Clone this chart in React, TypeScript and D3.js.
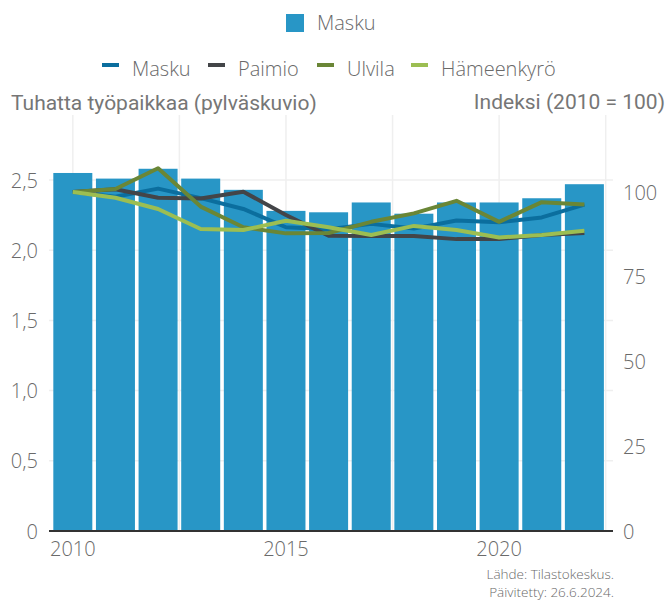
import React from "react";
import * as d3 from "d3";

const years = [2010, 2011, 2012, 2013, 2014, 2015, 2016, 2017, 2018, 2019, 2020, 2021, 2022];
const maskuJobs = [2.55, 2.51, 2.58, 2.51, 2.43, 2.28, 2.27, 2.34, 2.26, 2.34, 2.34, 2.37, 2.47];
const maskuIndex = [100, 98.6, 101, 98.2, 95, 89.6, 89, 90.6, 89.2, 91.6, 91.1, 92.5, 96.3];
const paimioIndex = [100, 100.8, 98.3, 98.1, 100.1, 93.2, 87.1, 87, 87, 86.1, 86.1, 87.3, 87.9];
const ulvilaIndex = [100, 100.9, 107, 95.7, 89.6, 87.8, 87.9, 91.2, 93.7, 97.4, 91.2, 97, 96.3];
const hameenkyroIndex = [100, 98.3, 95, 89.1, 88.8, 91.5, 89.6, 87.3, 90, 88.8, 86.6, 87.3, 88.6];

const leftTicks = [0, 0.5, 1, 1.5, 2, 2.5];
const rightTicks = [0, 25, 50, 75, 100];
const xTicks = [2010, 2015, 2020];
const xGrid = [2010, 2012.5, 2015, 2017.5, 2020, 2022.5];

const lineSeries = [
  { name: "Masku", values: maskuIndex, color: "#0b6e9e" },
  { name: "Paimio", values: paimioIndex, color: "#434548" },
  { name: "Ulvila", values: ulvilaIndex, color: "#6a8636" },
  { name: "Hämeenkyrö", values: hameenkyroIndex, color: "#9cbe52" },
];
const barColor = "#2896c6";

const W = 668;
const H = 601;
const plotTop = 115;
const plotBottom = 531;
const textColor = "#6a6a6a";
const font = "'Open Sans', Lato, sans-serif";
const titleFont = "Roboto, 'Liberation Sans', Arial, sans-serif";

export default function App() {
  const x = d3.scaleLinear().domain([2009.5, 2022.5]).range([51.5, 605.7]);
  const yL = d3.scaleLinear().domain([0, 2.5]).range([plotBottom, 180]);
  const yR = d3.scaleLinear().domain([0, 100]).range([plotBottom, 192]);
  const barW = 39;
  const line = (vals: number[]) =>
    d3
      .line<number>()
      .x((_, i) => x(years[i]))
      .y((v) => yR(v))(vals) as string;

  const legendItems = [
    { x: 102, label: "Masku" },
    { x: 208, label: "Paimio" },
    { x: 317, label: "Ulvila" },
    { x: 411, label: "Hämeenkyrö" },
  ];

  return (
    <svg
      width={W}
      height={H}
      style={{ position: "absolute", left: 0, top: 0, background: "#fff" }}
      fontFamily={font}
      fontWeight={300}
    >
      {/* grid */}
      {xGrid.map((g) => (
        <line key={"vx" + g} x1={x(g)} x2={x(g)} y1={plotTop} y2={plotBottom} stroke="#efefef" strokeWidth={1.5} />
      ))}
      {leftTicks.slice(1).map((t) => (
        <line key={"hy" + t} x1={49} x2={613} y1={yL(t)} y2={yL(t)} stroke="#efefef" strokeWidth={1.5} />
      ))}
      {/* bars */}
      {years.map((yr, i) => (
        <rect
          key={yr}
          x={x(yr) - barW / 2}
          y={yL(maskuJobs[i])}
          width={barW}
          height={plotBottom - yL(maskuJobs[i])}
          fill={barColor}
        />
      ))}
      {/* lines */}
      {lineSeries.map((s) => (
        <path key={s.name} d={line(s.values)} fill="none" stroke={s.color} strokeWidth={4} strokeLinejoin="round" />
      ))}
      {/* axis line */}
      <line x1={49} x2={613} y1={plotBottom} y2={plotBottom} stroke="#333" strokeWidth={2} />
      {/* left ticks */}
      {leftTicks.map((t) => (
        <text key={"l" + t} x={38} y={yL(t) + 7.5} textAnchor="end" fontSize={20} fill={textColor}>
          {t === 0 ? "0" : d3.format(".1f")(t).replace(".", ",")}
        </text>
      ))}
      {rightTicks.map((t) => (
        <text key={"r" + t} x={623} y={yR(t) + 7.5} textAnchor="start" fontSize={20} fill={textColor}>
          {t}
        </text>
      ))}
      {xTicks.map((t) => (
        <text key={"x" + t} x={x(t)} y={556} textAnchor="middle" fontSize={20} fill={textColor}>
          {t}
        </text>
      ))}
      {/* axis titles */}
      <text x={11} y={110} fontSize={21} fontWeight={400} fill="#767676" fontFamily={titleFont}>
        Tuhatta työpaikkaa (pylväskuvio)
      </text>
      <text x={665} y={109} textAnchor="end" fontSize={21} fontWeight={400} fill="#767676" fontFamily={titleFont}>
        Indeksi (2010 = 100)
      </text>
      {/* bar legend */}
      <rect x={286} y={14} width={18} height={18} fill={barColor} />
      <text x={317} y={30} fontSize={20} fill={textColor}>
        Masku
      </text>
      {/* line legend */}
      {legendItems.map((it, i) => (
        <g key={it.label}>
          <rect x={it.x} y={63} width={17} height={4} fill={lineSeries[i].color} />
          <text x={it.x + 30} y={76} fontSize={20} fill={textColor}>
            {it.label}
          </text>
        </g>
      ))}
      {/* source */}
      <text x={614} y={579} textAnchor="end" fontSize={13.5} fill={textColor}>
        Lähde: Tilastokeskus.
      </text>
      <text x={614} y={597} textAnchor="end" fontSize={13.5} fill={textColor}>
        Päivitetty: 26.6.2024.
      </text>
    </svg>
  );
}
